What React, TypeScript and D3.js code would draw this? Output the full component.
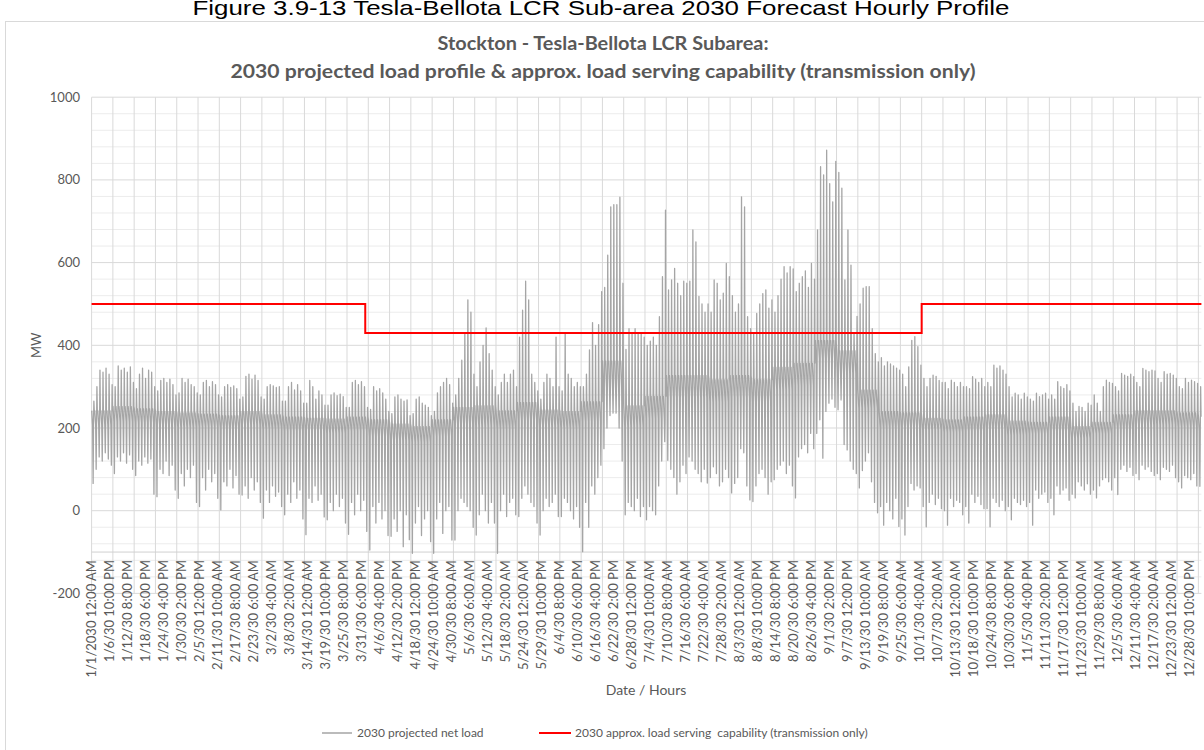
import React from 'react';
import * as d3 from 'd3';

const W = 1204;
const H = 750;

const figureTitle = 'Figure 3.9-13 Tesla-Bellota LCR Sub-area 2030 Forecast Hourly Profile';
const chartTitle1 = 'Stockton - Tesla-Bellota LCR Subarea:';
const chartTitle2 = '2030 projected load profile & approx. load serving capability (transmission only)';
const yAxisTitle = 'MW';
const xAxisTitle = 'Date / Hours';
const legendLoad = '2030 projected net load';
const legendCap = '2030 approx. load serving\u00a0 capability (transmission only)';

const yTicks = [-200, 0, 200, 400, 600, 800, 1000];
const hoursInYear = 8760;
const labelStepHours = 142;
const gridStepHours = 168;

const xTickLabels = [
  '1/1/2030 12:00 AM', '1/6/30 10:00 PM', '1/12/30 8:00 PM', '1/18/30 6:00 PM', '1/24/30 4:00 PM',
  '1/30/30 2:00 PM', '2/5/30 12:00 PM', '2/11/30 10:00 AM', '2/17/30 8:00 AM', '2/23/30 6:00 AM',
  '3/2/30 4:00 AM', '3/8/30 2:00 AM', '3/14/30 12:00 AM', '3/19/30 10:00 PM', '3/25/30 8:00 PM',
  '3/31/30 6:00 PM', '4/6/30 4:00 PM', '4/12/30 2:00 PM', '4/18/30 12:00 PM', '4/24/30 10:00 AM',
  '4/30/30 8:00 AM', '5/6/30 6:00 AM', '5/12/30 4:00 AM', '5/18/30 2:00 AM', '5/24/30 12:00 AM',
  '5/29/30 10:00 PM', '6/4/30 8:00 PM', '6/10/30 6:00 PM', '6/16/30 4:00 PM', '6/22/30 2:00 PM',
  '6/28/30 12:00 PM', '7/4/30 10:00 AM', '7/10/30 8:00 AM', '7/16/30 6:00 AM', '7/22/30 4:00 AM',
  '7/28/30 2:00 AM', '8/3/30 12:00 AM', '8/8/30 10:00 PM', '8/14/30 8:00 PM', '8/20/30 6:00 PM',
  '8/26/30 4:00 PM', '9/1/30 2:00 PM', '9/7/30 12:00 PM', '9/13/30 10:00 AM', '9/19/30 8:00 AM',
  '9/25/30 6:00 AM', '10/1/30 4:00 AM', '10/7/30 2:00 AM', '10/13/30 12:00 AM', '10/18/30 10:00 PM',
  '10/24/30 8:00 PM', '10/30/30 6:00 PM', '11/5/30 4:00 PM', '11/11/30 2:00 PM', '11/17/30 12:00 PM',
  '11/23/30 10:00 AM', '11/29/30 8:00 AM', '12/5/30 6:00 AM', '12/11/30 4:00 AM', '12/17/30 2:00 AM',
  '12/23/30 12:00 AM', '12/28/30 10:00 PM',
];

// load serving capability (step series): start hour of each period and its MW value
const capBreakHours = [0, 2160, 6552, 8760];
const capValues = [500, 430, 500, 500];

// daily peak of the net load (MW), one value per day
const dailyPeak = [
  265, 300, 340, 335, 345, 330, 305,
  300, 350, 340, 345, 335, 348, 310,
  295, 330, 345, 320, 340, 335, 300,
  290, 315, 320, 310, 318, 305, 280,
  285, 320, 310, 318, 305, 300, 285,
  280, 310, 315, 300, 312, 305, 280,
  275, 300, 305, 298, 302, 295, 270,
  275, 325, 330, 318, 328, 315, 275,
  270, 300, 305, 302, 298, 300, 265,
  265, 300, 310, 292, 305, 290, 260,
  260, 315, 300, 270, 290, 280, 255,
  255, 280, 285, 278, 282, 276, 250,
  250, 310, 315, 305, 312, 300, 250,
  245, 300, 290, 295, 285, 270, 240,
  235, 275, 280, 270, 265, 268, 230,
  235, 270, 275, 260, 255, 250, 230,
  240, 285, 300, 310, 320, 305, 260,
  280, 320, 364, 429, 510, 480, 330,
  300, 360, 400, 442, 380, 340, 300,
  280, 310, 330, 310, 330, 340, 300,
  420, 485, 555, 510, 330, 310, 290,
  270, 310, 330, 320, 300, 420, 300,
  290, 430, 330, 320, 300, 310, 300,
  300, 330, 389, 455, 400, 450, 530,
  540, 618, 735, 740, 740, 758, 550,
  390, 440, 430, 440, 430, 430, 420,
  400, 410, 420, 400, 469, 566, 727,
  534, 558, 586, 550, 520, 555, 550,
  555, 679, 650, 518, 500, 480, 500,
  480, 558, 550, 510, 526, 598, 566,
  520, 480, 500, 759, 735, 469, 440,
  430, 477, 500, 525, 534, 490, 510,
  480, 520, 560, 590, 575, 590, 585,
  530, 550, 566, 580, 540, 598, 560,
  679, 832, 812, 872, 791, 747, 845,
  818, 780, 558, 679, 594, 430, 470,
  500, 538, 542, 542, 440, 380, 360,
  370, 350, 360, 355, 350, 345, 340,
  330, 300, 348, 412, 421, 397, 352,
  320, 300, 320, 328, 325, 315, 310,
  310, 295, 316, 310, 300, 310, 300,
  300, 295, 324, 318, 310, 320, 300,
  310, 300, 352, 345, 350, 340, 330,
  300, 275, 284, 280, 270, 284, 275,
  270, 265, 284, 276, 280, 284, 270,
  280, 270, 312, 300, 296, 305, 290,
  260, 240, 252, 250, 240, 260, 255,
  280, 260, 240, 300, 316, 310, 308,
  300, 290, 332, 328, 325, 330, 324,
  310, 300, 344, 340, 336, 340, 338,
  320, 310, 336, 330, 332, 328, 320,
  300, 295, 320, 310, 316, 312, 308,
  300,
];

// daily minimum of the net load (MW), one value per day
const dailyTrough = [
  66, 100, 130, 120, 140, 125, 110,
  90, 130, 120, 140, 115, 135, 100,
  85, 120, 110, 130, 115, 125, 40,
  34, 100, 90, 120, 85, 110, 50,
  30, 90, 60, 100, 80, 110, 20,
  10, 80, 50, 100, 70, 90, 30,
  2, 70, 60, 100, 55, 85, 40,
  38, 60, 30, 80, 50, 70, 20,
  -18, 50, 20, 60, 35, 45, 10,
  -10, 40, 20, 70, 30, 50, -20,
  -58, 30, 20, 60, 25, 40, -15,
  -22, 20, 0, 40, 10, 30, -30,
  -57, 20, -10, 40, 0, 25, -50,
  -95, 10, -30, 20, -20, 0, -60,
  -62, -20, -50, 0, -87, -10, -70,
  -103, -30, 10, -60, -20, 0, -75,
  -103, -20, 20, -55, 0, 10, -71,
  -71, 0, 30, 20, 10, 0, -40,
  -59, -10, 40, 0, -30, 20, -30,
  -103, 0, 40, -14, 20, 30, -10,
  -14, 30, 60, 40, 20, 10, -30,
  -59, 0, 30, 10, 20, 40, -14,
  -14, 30, 20, 0, -20, 10, -40,
  -99, 20, -40, 60, 40, 80, 110,
  150, 200, 230, 236, 236, 200, 120,
  -10, 20, 10, 0, 30, -14, 10,
  -22, 10, 0, -10, 60, 120, 167,
  122, 100, 80, 40, 70, 110, 90,
  130, 120, 100, 90, 70, 100, 67,
  80, 106, 90, 60, 70, 100, 80,
  43, 66, 80, 150, 140, 60, 26,
  22, 60, 90, 100, 80, 40, 70,
  75, 100, 110, 120, 90, 110, 60,
  31, 130, 150, 160, 140, 187, 150,
  187, 220, 127, 240, 260, 270, 250,
  244, 268, 160, 147, 120, 100, 90,
  55, 97, 120, 140, 70, 20, -5,
  10, -35, 20, 0, -20, 30, -38,
  -20, -59, 10, 66, 50, 60, 55,
  10, -39, 20, 40, 15, 30, 5,
  0, -35, 30, 10, 25, 20, -10,
  10, -30, 40, 20, 35, 15, 5,
  5, -39, 30, 20, 10, 25, 0,
  10, -22, 30, 20, 15, 25, 10,
  20, -35, 50, 30, 40, 45, 20,
  30, -10, 60, 40, 50, 55, 25,
  40, 31, 70, 60, 50, 65, 40,
  50, 31, 60, 75, 80, 70, 50,
  80, 39, 100, 110, 95, 105, 85,
  90, 75, 110, 100, 106, 95, 85,
  90, 75, 105, 100, 95, 110, 80,
  70, 55, 85, 80, 75, 90, 60,
  59,
];

// dense band of the hourly profile per week (MW): its upper and lower edge
const weeklyBandTop = [
  242, 252, 247, 240, 237, 234, 230, 240, 232, 227, 224, 222, 227,
  220, 210, 204, 220, 250, 254, 242, 262, 244, 240,
  264, 362, 254, 277, 327, 327, 317, 327, 317, 347, 357, 412, 387, 292, 240, 237,
  224, 220, 227, 232, 217, 214, 227, 204, 214, 232, 242, 242, 237, 227,
];
const weeklyBandBottom = [
  208, 216, 213, 208, 203, 204, 200, 208, 198, 193, 194, 188, 193,
  180, 170, 166, 180, 210, 206, 198, 218, 206, 200,
  216, 298, 206, 223, 273, 273, 263, 273, 263, 293, 303, 368, 333, 248, 200, 203,
  196, 190, 193, 198, 183, 186, 193, 176, 186, 198, 208, 208, 203, 193,
];

const plot = { left: 91.6, right: 1201.4, top: 97.2, bottom: 593.4 };
const textColor = '#595959';
const font = 'Lato, "Open Sans", "Liberation Sans", sans-serif';

export default function App() {
  const x = d3.scaleLinear().domain([0, hoursInYear]).range([plot.left, plot.right]);
  const y = d3.scaleLinear().domain([-200, 1000]).range([plot.bottom, plot.top]);

  // hourly-profile vertices for each day: evening level, morning level, midday minimum, evening peak
  const pts: [number, number][] = [];
  dailyPeak.forEach((p, d) => {
    const w = Math.floor(d / 7);
    const top = weeklyBandTop[w];
    const bot = weeklyBandBottom[w];
    const h0 = d * 24;
    pts.push(
      [h0 + 1, top],
      [h0 + 8, bot],
      [h0 + 12, dailyTrough[d]],
      [h0 + 15, bot],
      [h0 + 18, p],
      [h0 + 21, top],
    );
  });
  const loadLine = d3.line<[number, number]>().x((p) => x(p[0])).y((p) => y(p[1]));
  const capPts: [number, number][] = capBreakHours.map((h, i) => [h, capValues[i]]);
  const capLine = d3.line<[number, number]>().x((p) => x(p[0])).y((p) => y(p[1])).curve(d3.curveStepAfter);

  const minorY = d3.range(-200, 1001, 40).filter((v) => v % 200 !== 0);
  const gridX = d3.range(0, hoursInYear + 1, gridStepHours);
  const axisY = y(-100);

  return (
    <svg width={W} height={H} style={{ position: 'absolute', left: 0, top: 0, background: '#fff' }} fontFamily={font}>
      <rect x={0} y={0} width={W} height={H} fill="#fff" />
      <text x={601} y={15} textAnchor="middle" fontSize={21} fill="#000" fontFamily='"Liberation Sans", Arial, sans-serif' textLength={817} lengthAdjust="spacingAndGlyphs">
        {figureTitle}
      </text>
      <rect x={5.5} y={21.5} width={1300} height={800} fill="#fff" stroke="#d9d9d9" strokeWidth={1} />
      <text x={603} y={50} textAnchor="middle" fontSize={18.5} fontWeight="bold" fill={textColor} textLength={331} lengthAdjust="spacingAndGlyphs">
        {chartTitle1}
      </text>
      <text x={603} y={78} textAnchor="middle" fontSize={18.5} fontWeight="bold" fill={textColor} textLength={745} lengthAdjust="spacingAndGlyphs">
        {chartTitle2}
      </text>

      {minorY.map((v) => (
        <line key={'mn' + v} x1={plot.left} x2={plot.right} y1={y(v)} y2={y(v)} stroke="#ececec" strokeWidth={1} />
      ))}
      {yTicks.map((v) => (
        <line key={'mj' + v} x1={plot.left} x2={plot.right} y1={y(v)} y2={y(v)} stroke="#d9d9d9" strokeWidth={1} />
      ))}
      {gridX.map((h) => (
        <line key={'gx' + h} x1={x(h)} x2={x(h)} y1={plot.top} y2={plot.bottom} stroke="#d9d9d9" strokeWidth={1} />
      ))}
      <line x1={plot.left} x2={plot.right} y1={axisY} y2={axisY} stroke="#d0d0d0" strokeWidth={1} />

      <path d={loadLine(pts) || ''} fill="none" stroke="#a5a5a5" strokeWidth={1.3} strokeLinejoin="round" />
      <path d={capLine(capPts) || ''} fill="none" stroke="#ff0000" strokeWidth={2} />

      {yTicks.map((v) => (
        <text key={'yt' + v} x={80} y={y(v)} dy="0.35em" textAnchor="end" fontSize={13} fill={textColor}>
          {v}
        </text>
      ))}
      <text transform={`translate(36,${y(400)}) rotate(-90)`} textAnchor="middle" dy="0.35em" fontSize={13} fill={textColor}>
        {yAxisTitle}
      </text>

      {xTickLabels.map((lab, i) => (
        <text
          key={'xl' + i}
          transform={`translate(${x(i * labelStepHours)},${axisY + 8}) rotate(-90)`}
          textAnchor="end"
          dy="0.35em"
          fontSize={13}
          fill={textColor}
        >
          {lab}
        </text>
      ))}
      <text x={646} y={690} dy="0.35em" textAnchor="middle" fontSize={14} fill={textColor}>
        {xAxisTitle}
      </text>

      <line x1={322} x2={352} y1={733} y2={733} stroke="#a5a5a5" strokeWidth={1.5} />
      <text x={357} y={733} dy="0.35em" fontSize={12} fill={textColor}>
        {legendLoad}
      </text>
      <line x1={539} x2={571} y1={733} y2={733} stroke="#ff0000" strokeWidth={2} />
      <text x={575} y={733} dy="0.35em" fontSize={12} fill={textColor}>
        {legendCap}
      </text>
    </svg>
  );
}
